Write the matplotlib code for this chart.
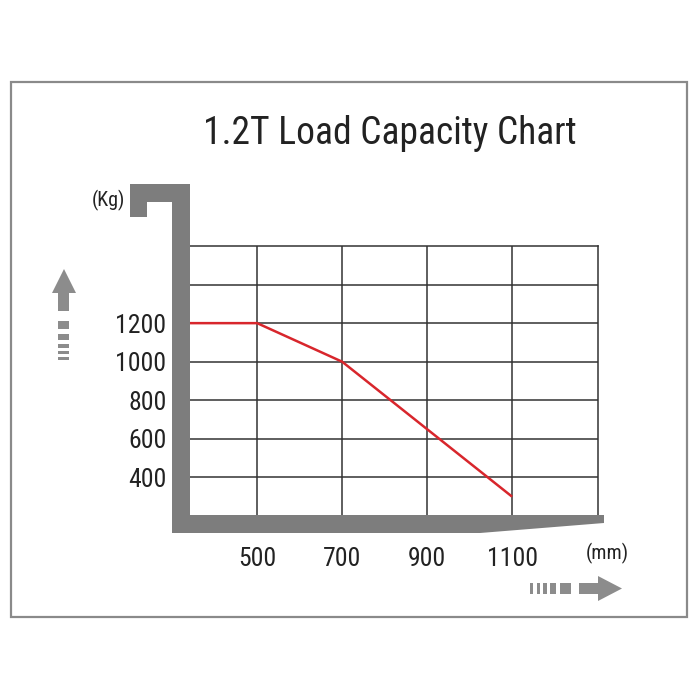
import matplotlib
matplotlib.use("Agg")
import matplotlib.pyplot as plt
from matplotlib import font_manager
from matplotlib.patches import Polygon, Rectangle

# ---------------- data ----------------
TITLE = "1.2T Load Capacity Chart"
X_TICKS = [500, 700, 900, 1100]
Y_TICKS = [400, 600, 800, 1000, 1200]
Y_EXTRA_GRID = [1400]
LOAD_MM = [342, 500, 700, 1100]
LOAD_KG = [1200, 1200, 1000, 300]
X_LIMITS = (342, 1302)
Y_LIMITS = (200, 1600)
X_UNIT = "(mm)"
Y_UNIT = "(Kg)"

# ---------------- fonts ----------------
names = {f.name for f in font_manager.fontManager.ttflist}
FONT = "DejaVu Sans"
for cand in ["Liberation Sans Narrow", "Roboto Condensed", "DejaVu Sans Condensed",
             "Open Sans Condensed", "Liberation Sans"]:
    if cand in names:
        FONT = cand
        break
plt.rcParams["font.family"] = [FONT, "DejaVu Sans"]

GRAY = "#7d7d7d"
ARROW = "#8c8c8c"
RED = "#d8262c"
GRID = "#333333"
TXT = "#222222"

W = H = 700
fig = plt.figure(figsize=(7, 7), dpi=100)
fig.patch.set_facecolor("white")

# background layer in pixel coordinates
bg = fig.add_axes([0, 0, 1, 1], zorder=0)
bg.set_xlim(0, W); bg.set_ylim(H, 0); bg.axis("off")
bg.add_patch(Rectangle((11, 82), 676, 535, fill=False, ec="#8a8a8a", lw=1.6))
bg.text(390, 134, TITLE, ha="center", va="center", fontsize=27, color=TXT)

# data axes
L, R, T, B = 190, 598, 246, 516
ax = fig.add_axes([L / W, 1 - B / H, (R - L) / W, (B - T) / H], zorder=1)
ax.set_facecolor("white")
ax.set_xlim(*X_LIMITS)
ax.set_ylim(*Y_LIMITS)
ax.set_xticks(X_TICKS)
ax.set_xticklabels([str(v) for v in X_TICKS])
ax.set_yticks(Y_TICKS)
ax.set_yticklabels([str(v) for v in Y_TICKS])
ax.set_yticks(Y_EXTRA_GRID, minor=True)
ax.grid(True, which="both", color=GRID, lw=1.1)
ax.tick_params(axis="both", which="both", length=0, labelsize=18.5, colors=TXT)
ax.tick_params(axis="x", pad=22)
ax.tick_params(axis="y", pad=17)
for s in ["top", "right"]:
    ax.spines[s].set_color(GRID); ax.spines[s].set_linewidth(1.1)
for s in ["left", "bottom"]:
    ax.spines[s].set_visible(False)
ax.plot(LOAD_MM, LOAD_KG, color=RED, lw=1.8, solid_capstyle="butt", zorder=3, clip_on=True)

# foreground layer: fork, arrows, unit labels
fg = fig.add_axes([0, 0, 1, 1], zorder=2)
fg.set_xlim(0, W); fg.set_ylim(H, 0); fg.axis("off"); fg.patch.set_alpha(0)
fork = [(130, 184), (190, 184), (190, 515), (604, 515), (604, 523), (480, 533),
        (172, 533), (172, 202), (147, 202), (147, 217), (130, 217)]
fg.add_patch(Polygon(fork, closed=True, fc=GRAY, ec="none"))

# up arrow
fg.add_patch(Polygon([(64, 269), (76, 293), (69, 293), (69, 311), (58, 311), (58, 293), (52, 293)],
                     closed=True, fc=ARROW, ec="none"))
for y0, y1 in [(321, 329), (334, 340), (344, 347.5), (350.5, 353.5), (357, 360)]:
    fg.add_patch(Rectangle((58, y0), 11, y1 - y0, fc=ARROW, ec="none"))

# right arrow
fg.add_patch(Polygon([(622, 588.5), (598, 576), (598, 583), (579, 583), (579, 594), (598, 594), (598, 601)],
                     closed=True, fc=ARROW, ec="none"))
for x0, x1 in [(530, 533), (537, 540), (543, 547), (550, 556), (560, 571)]:
    fg.add_patch(Rectangle((x0, 583), x1 - x0, 11, fc=ARROW, ec="none"))

fg.text(108, 200, Y_UNIT, ha="center", va="center", fontsize=14.5, color=TXT)
fg.text(607, 553, X_UNIT, ha="center", va="center", fontsize=14.5, color=TXT)

fig.savefig("out.png", dpi=100, facecolor="white")
